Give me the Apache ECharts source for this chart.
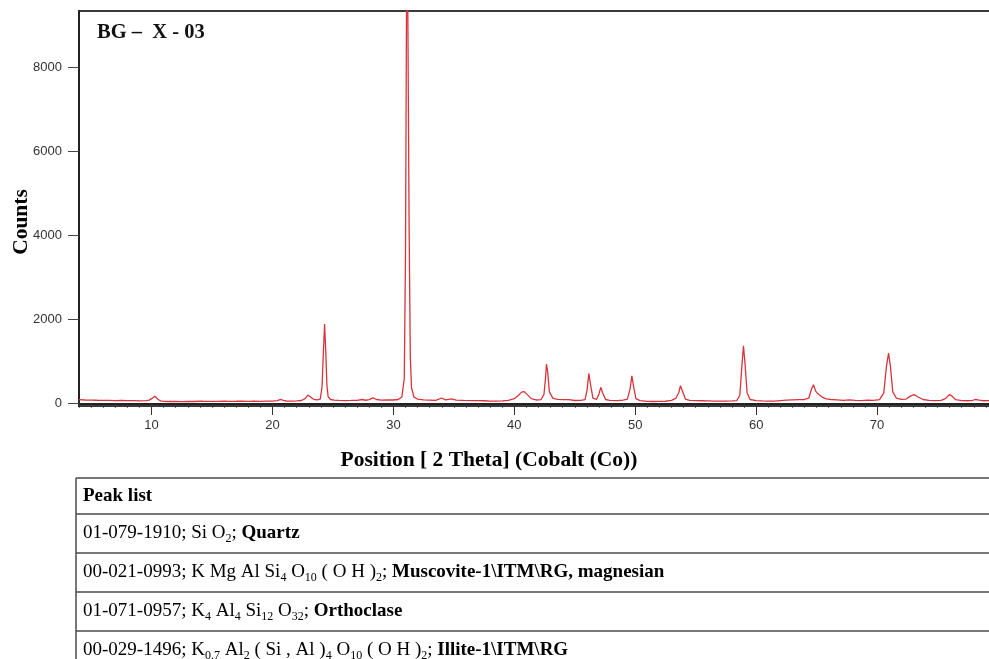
<!DOCTYPE html>
<html>
<head>
<meta charset="utf-8">
<script src="https://cdn.jsdelivr.net/npm/echarts@6/dist/echarts.min.js"></script>
<style>
html,body{margin:0;padding:0;background:#fff;}
#chart{width:989px;height:659px;}
</style>
</head>
<body>
<div id="chart"></div>
<script>
// ---- Data ----
const sampleLabel = 'BG \u2013  X - 03';
const xTitle = 'Position [ 2 Theta] (Cobalt (Co))';
const yTitle = 'Counts';
const xLabelValues = [10, 20, 30, 40, 50, 60, 70];
const yLabelValues = [0, 2000, 4000, 6000, 8000];

const twoTheta = [
  4.0, 4.5, 5.0, 5.5, 6.0, 6.5, 7.0, 7.5, 8.0, 8.5, 9.0, 9.5, 9.8, 10.0, 10.15, 10.27, 10.4, 10.55, 10.75, 11.0,
  11.5, 12.0, 12.5, 13.0, 13.5, 14.0, 14.5, 15.0, 15.5, 16.0, 16.5, 17.0, 17.5, 18.0, 18.5, 19.0, 19.5, 20.0, 20.4, 20.67,
  20.9, 21.2, 21.6, 22.0, 22.4, 22.7, 22.92, 23.1, 23.4, 23.7, 23.95, 24.1, 24.2, 24.31, 24.4, 24.5, 24.6, 24.8, 25.1, 25.5,
  26.0, 26.5, 27.0, 27.4, 27.7, 28.0, 28.3, 28.6, 29.0, 29.5, 30.0, 30.4, 30.7, 30.9, 31.0, 31.05, 31.1, 31.15, 31.2, 31.3,
  31.4, 31.5, 31.7, 32.0, 32.5, 33.0, 33.5, 33.98, 34.3, 34.8, 35.2, 35.8, 36.5, 37.0, 37.5, 38.0, 38.5, 39.0, 39.5, 40.0,
  40.35, 40.6, 40.8, 41.1, 41.4, 41.8, 42.2, 42.45, 42.58, 42.66, 42.76, 42.9, 43.2, 43.6, 44.0, 44.5, 45.0, 45.5, 45.85, 46.02,
  46.16, 46.3, 46.5, 46.8, 47.0, 47.15, 47.3, 47.55, 47.9, 48.5, 49.0, 49.35, 49.58, 49.72, 49.86, 50.05, 50.4, 51.0, 51.5, 52.0,
  52.5, 53.0, 53.35, 53.6, 53.74, 53.9, 54.15, 54.5, 55.0, 55.5, 56.0, 56.5, 57.0, 57.5, 58.0, 58.4, 58.65, 58.82, 58.95, 59.08,
  59.25, 59.5, 60.0, 60.5, 61.0, 61.5, 62.0, 62.5, 63.0, 63.5, 64.0, 64.35, 64.58, 64.74, 64.92, 65.1, 65.26, 65.5, 65.8, 66.2,
  66.7, 67.2, 67.7, 68.2, 68.7, 69.2, 69.7, 70.2, 70.55, 70.78, 70.95, 71.1, 71.3, 71.6, 72.0, 72.4, 72.75, 73.06, 73.4, 73.8,
  74.3, 74.8, 75.3, 75.65, 75.99, 76.2, 76.5, 77.0, 77.5, 77.9, 78.16, 78.45, 78.8, 79.2, 79.6, 80.0
];
const counts = [
  95, 88, 86, 82, 80, 81, 75, 77, 72, 73, 68, 72, 85, 120, 160, 178, 150, 100, 68, 55,
  52, 56, 50, 56, 52, 58, 54, 57, 55, 60, 56, 58, 62, 57, 60, 56, 60, 62, 75, 100,
  78, 62, 60, 66, 76, 120, 205, 170, 105, 90, 110, 400, 1150, 1895, 1300, 450, 170, 100, 85, 78,
  75, 77, 80, 100, 82, 95, 140, 100, 85, 90, 88, 100, 160, 600, 3500, 7000, 10500, 11500, 9000, 4200,
  1100, 380, 160, 110, 90, 85, 80, 135, 92, 115, 85, 80, 75, 72, 70, 62, 60, 65, 80, 120,
  200, 275, 288, 210, 120, 88, 95, 220, 600, 945, 760, 280, 125, 102, 98, 95, 76, 80, 95, 330,
  720, 460, 130, 100, 230, 390, 260, 100, 80, 75, 85, 110, 360, 665, 420, 120, 72, 55, 52, 55,
  58, 80, 125, 260, 430, 300, 110, 78, 72, 70, 65, 60, 62, 60, 65, 75, 200, 900, 1380, 950,
  260, 100, 75, 65, 62, 60, 75, 85, 90, 95, 100, 130, 350, 450, 300, 240, 255, 150, 115, 100,
  90, 80, 90, 80, 75, 85, 80, 95, 250, 900, 1205, 900, 280, 130, 105, 110, 180, 215, 160, 100,
  80, 75, 80, 120, 220, 180, 95, 75, 70, 80, 100, 85, 70, 72, 70, 70
];

const peakHeader = 'Peak list';
const peakRows = [
  '01-079-1910; Si O{s|2}; {b|Quartz}',
  '00-021-0993; K Mg Al Si{s|4} O{s|10} ( O H ){s|2}; {b|Muscovite-1\\ITM\\RG, magnesian}',
  '01-071-0957; K{s|4} Al{s|4} Si{s|12} O{s|32}; {b|Orthoclase}',
  '00-029-1496; K{s|0.7} Al{s|2} ( Si , Al ){s|4} O{s|10} ( O H ){s|2}; {b|Illite-1\\ITM\\RG}'
];

// ---- Chart ----
const chart = echarts.init(document.getElementById('chart'), null, {renderer: 'canvas'});
const serif = '"Liberation Serif", "Times New Roman", serif';
const sans = '"Liberation Sans", Arial, sans-serif';
const seriesData = twoTheta.map((t, i) => [t, counts[i]]);

const tableLeft = 76, tableTop = 478, rowH = [36, 39, 39, 39, 39];
const graphics = [];
let yAcc = tableTop;
const lineYs = [yAcc];
rowH.forEach(h => { yAcc += h; lineYs.push(yAcc); });
lineYs.slice(0, 5).forEach(y => {
  graphics.push({type: 'line', shape: {x1: tableLeft, y1: y, x2: 1000, y2: y},
    style: {stroke: '#4a4a4a', lineWidth: 1.5}});
});
graphics.push({type: 'line', shape: {x1: tableLeft, y1: tableTop, x2: tableLeft, y2: 670},
  style: {stroke: '#4a4a4a', lineWidth: 1.5}});
const richStyles = {
  b: {fontFamily: serif, fontSize: 19, fontWeight: 'bold', fill: '#000', lineHeight: 22},
  s: {fontFamily: serif, fontSize: 12, fill: '#000', lineHeight: 12, padding: [11, 0, 0, 0]}
};
const allRows = ['{b|' + peakHeader + '}'].concat(peakRows);
allRows.forEach((txt, i) => {
  const cy = (lineYs[i] + lineYs[i + 1]) / 2;
  graphics.push({type: 'text', x: 83, y: cy,
    style: {text: txt, fontFamily: serif, fontSize: 19, fill: '#000', lineHeight: 22,
      verticalAlign: 'middle', align: 'left', rich: richStyles}});
});
graphics.push({type: 'text', x: 97, y: 33,
  style: {text: sampleLabel, fontFamily: serif, fontSize: 20.5, fontWeight: 'bold', fill: '#111',
    verticalAlign: 'middle', align: 'left'}});
graphics.push({type: 'text', x: 489, y: 460,
  style: {text: xTitle, fontFamily: serif, fontSize: 21.5, fontWeight: 'bold', fill: '#000',
    verticalAlign: 'middle', align: 'center'}});
graphics.push({type: 'text', x: 21, y: 222, rotation: Math.PI / 2,
  style: {text: yTitle, fontFamily: serif, fontSize: 21.5, fontWeight: 'bold', fill: '#000',
    verticalAlign: 'middle', align: 'center'}});

const option = {
  backgroundColor: '#fff',
  animation: false,
  grid: {left: 79, top: 11, width: 919, height: 395, show: true, outerBoundsMode: 'none',
    containLabel: false,
    borderColor: '#3a3a3a', borderWidth: 2, backgroundColor: 'transparent'},
  xAxis: [{
    type: 'value', min: 4, max: 80, interval: 1,
    axisLine: {show: true, lineStyle: {color: '#222', width: 2}},
    axisTick: {show: true, length: 4, lineStyle: {color: '#333', width: 1}},
    axisLabel: {customValues: xLabelValues, color: '#333', fontFamily: sans, fontSize: 13, margin: 13},
    splitLine: {show: false}
  }, {
    type: 'value', min: 4, max: 80, position: 'bottom',
    axisLine: {show: false},
    axisTick: {show: true, customValues: xLabelValues, length: 9, lineStyle: {color: '#333', width: 1}},
    axisLabel: {show: false},
    splitLine: {show: false}
  }],
  yAxis: {
    type: 'value', min: -55, max: 9350,
    axisLine: {show: true, lineStyle: {color: '#222', width: 2}},
    axisTick: {show: true, customValues: yLabelValues, length: 11, lineStyle: {color: '#444', width: 1}},
    axisLabel: {customValues: yLabelValues, color: '#333', fontFamily: sans, fontSize: 13, margin: 17,
      formatter: v => String(v)},
    splitLine: {show: false}
  },
  series: [{
    type: 'line', data: seriesData, xAxisIndex: 0, yAxisIndex: 0,
    showSymbol: false, symbol: 'none', sampling: null, clip: true,
    lineStyle: {color: '#d8343c', width: 1.3}
  }],
  graphic: graphics
};
chart.setOption(option);
</script>
</body>
</html>
